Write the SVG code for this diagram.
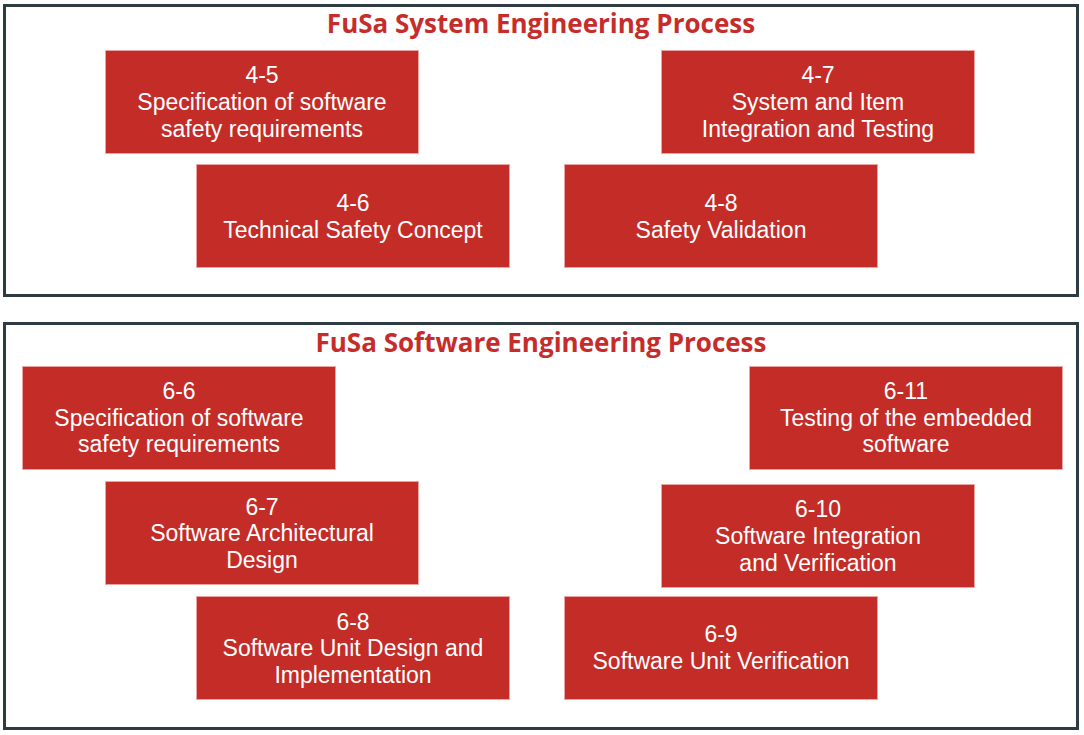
<svg xmlns="http://www.w3.org/2000/svg" width="1084" height="735" viewBox="0 0 1084 735">
<style>
.frame{fill:#fff;stroke:#2f3b42;stroke-width:3}
.title{font-family:"Open Sans","Noto Sans",sans-serif;font-weight:bold;font-size:26px;fill:#c62d2a;text-anchor:middle}
.box{fill:#c42c28;stroke:#e9a3a1;stroke-width:1}
.lbl{font-family:"Liberation Sans",Arial,sans-serif;font-size:23px;fill:#fff;text-anchor:middle}
</style>
<rect width="1084" height="735" fill="#fff"/>
<g id="system-frame">
<rect class="frame" x="4.5" y="5.5" width="1073" height="290"/>
<text class="title" x="541" y="33">FuSa System Engineering Process</text>
</g>
<g id="n4-5"><rect class="box" x="105.5" y="50.5" width="313" height="103"/>
<text class="lbl"><tspan x="262" y="83">4-5</tspan><tspan x="262" y="110">Specification of software</tspan><tspan x="262" y="137">safety requirements</tspan></text></g>
<g id="n4-6"><rect class="box" x="196.5" y="164.5" width="313" height="103"/>
<text class="lbl"><tspan x="353" y="211">4-6</tspan><tspan x="353" y="238">Technical Safety Concept</tspan></text></g>
<g id="n4-7"><rect class="box" x="661.5" y="50.5" width="313" height="103"/>
<text class="lbl"><tspan x="818" y="83">4-7</tspan><tspan x="818" y="110">System and Item</tspan><tspan x="818" y="137">Integration and Testing</tspan></text></g>
<g id="n4-8"><rect class="box" x="564.5" y="164.5" width="313" height="103"/>
<text class="lbl"><tspan x="721" y="211">4-8</tspan><tspan x="721" y="238">Safety Validation</tspan></text></g>

<g id="software-frame">
<rect class="frame" x="4.5" y="323.5" width="1073" height="405"/>
<text class="title" x="541" y="352">FuSa Software Engineering Process</text>
</g>
<g id="n6-6"><rect class="box" x="22.5" y="366.5" width="313" height="103"/>
<text class="lbl"><tspan x="179" y="399">6-6</tspan><tspan x="179" y="426">Specification of software</tspan><tspan x="179" y="452">safety requirements</tspan></text></g>
<g id="n6-7"><rect class="box" x="105.5" y="481.5" width="313" height="103"/>
<text class="lbl"><tspan x="262" y="515">6-7</tspan><tspan x="262" y="541">Software Architectural</tspan><tspan x="262" y="568">Design</tspan></text></g>
<g id="n6-8"><rect class="box" x="196.5" y="596.5" width="313" height="103"/>
<text class="lbl"><tspan x="353" y="630">6-8</tspan><tspan x="353" y="656">Software Unit Design and</tspan><tspan x="353" y="683">Implementation</tspan></text></g>
<g id="n6-11"><rect class="box" x="749.5" y="366.5" width="313" height="103"/>
<text class="lbl"><tspan x="906" y="399">6-11</tspan><tspan x="906" y="426">Testing of the embedded</tspan><tspan x="906" y="452">software</tspan></text></g>
<g id="n6-10"><rect class="box" x="661.5" y="484.5" width="313" height="103"/>
<text class="lbl"><tspan x="818" y="517">6-10</tspan><tspan x="818" y="544">Software Integration</tspan><tspan x="818" y="571">and Verification</tspan></text></g>
<g id="n6-9"><rect class="box" x="564.5" y="596.5" width="313" height="103"/>
<text class="lbl"><tspan x="721" y="642">6-9</tspan><tspan x="721" y="669">Software Unit Verification</tspan></text></g>
<g id="connectors"></g>
</svg>
